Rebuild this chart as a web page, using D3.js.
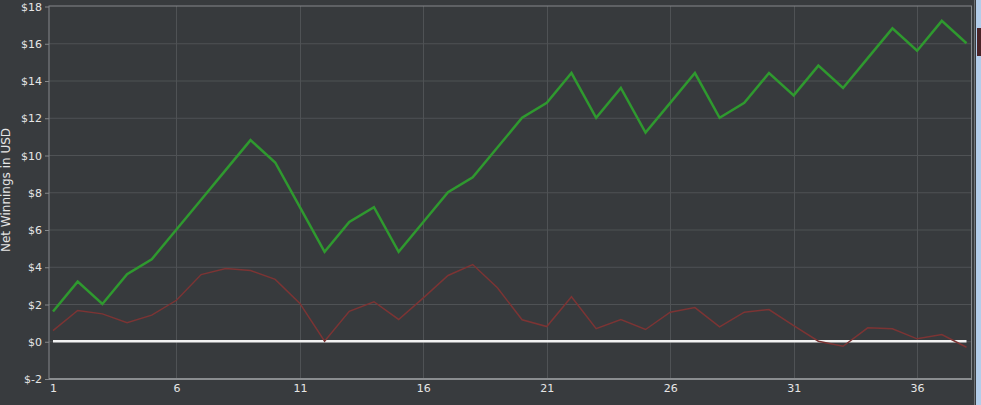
<!DOCTYPE html>
<html><head><meta charset="utf-8">
<script src="https://cdn.jsdelivr.net/npm/d3@7"></script>
<style>
html,body{margin:0;padding:0;background:#383b3e;overflow:hidden}
svg{display:block}
text{font-family:"DejaVu Sans",Verdana,sans-serif}
</style></head><body>
<svg id="c" width="981" height="405"></svg>
<script>
const games = d3.range(1, 39);
const netWinnings = [1.6,3.2,2.0,3.6,4.4,6.0,7.6,9.2,10.8,9.6,7.2,4.8,6.4,7.2,4.8,6.4,8.0,8.8,10.4,12.0,12.8,14.4,12.0,13.6,11.2,12.8,14.4,12.0,12.8,14.4,13.2,14.8,13.6,15.2,16.8,15.6,17.2,16.0];
const otherSeries = [0.57,1.65,1.47,1.0,1.4,2.2,3.58,3.9,3.8,3.32,2.03,0.0,1.61,2.12,1.17,2.33,3.53,4.12,2.87,1.15,0.79,2.39,0.68,1.17,0.63,1.56,1.81,0.77,1.56,1.7,0.84,0.0,-0.27,0.72,0.67,0.13,0.36,-0.32];
const yTicks = [-2,0,2,4,6,8,10,12,14,16,18];
const xTicks = [1,6,11,16,21,26,31,36];
const yLabel = "Net Winnings in USD";

const svg = d3.select("#c");
const L = 49, R = 971.5, T = 6, B = 378.5;
const x = d3.scaleLinear().domain([1, 38]).range([53, 966.5]);
const y = d3.scaleLinear().domain([-2, 18]).range([B, T]);

// right-edge window artifacts
svg.append("rect").attr("x",974).attr("y",0).attr("width",1).attr("height",405).attr("fill","#6e7276");
svg.append("rect").attr("x",976).attr("y",0).attr("width",5).attr("height",405).attr("fill","#b3cdea");
svg.append("rect").attr("x",977).attr("y",28).attr("width",4).attr("height",28).attr("fill","#4a2428");

svg.append("rect").attr("x",L).attr("y",T).attr("width",R-L).attr("height",B-T).attr("fill","#373a3d");

// grid
svg.append("g").selectAll("line").data(yTicks.filter(d=>d>-2&&d<18)).join("line")
  .attr("x1",L).attr("x2",R).attr("y1",d=>y(d)+0.5).attr("y2",d=>y(d)+0.5)
  .attr("stroke","#4f5255").attr("stroke-width",1);
svg.append("g").selectAll("line").data(xTicks.filter(d=>d>1)).join("line")
  .attr("x1",d=>Math.round(x(d))+0.5).attr("x2",d=>Math.round(x(d))+0.5).attr("y1",T).attr("y2",B)
  .attr("stroke","#4f5255").attr("stroke-width",1);

// frame
svg.append("rect").attr("x",L).attr("y",T).attr("width",R-L).attr("height",B-T)
  .attr("fill","none").attr("stroke","#85888b").attr("stroke-width",1);
svg.append("line").attr("x1",L).attr("x2",R+0.5).attr("y1",B+0.5).attr("y2",B+0.5)
  .attr("stroke","#8a8d90").attr("stroke-width",2);

// axes
const yAxis = d3.axisLeft(y).tickValues(yTicks).tickFormat(d=>"$"+d).tickSize(4).tickPadding(3);
const gy = svg.append("g").attr("transform",`translate(${L},0.5)`).call(yAxis);
const xAxis = d3.axisBottom(x).tickValues(xTicks).tickFormat(d3.format("d")).tickSize(0).tickPadding(5);
const gx = svg.append("g").attr("transform",`translate(0,${B+1})`).call(xAxis);
[gy,gx].forEach(g=>{
  g.select(".domain").remove();
  g.selectAll(".tick line").attr("stroke","#85888b");
  g.selectAll("text").attr("fill","#e6e6e6").style("font-size","11px").style("font-family","'DejaVu Sans',sans-serif");
});

svg.append("text").attr("transform","translate(10,190) rotate(-90)")
  .attr("text-anchor","middle").attr("fill","#e6e6e6").style("font-size","12px").text(yLabel);

// zero line
svg.append("line").attr("x1",x(1)).attr("x2",x(38)).attr("y1",y(0)).attr("y2",y(0))
  .attr("stroke","#f2f2f2").attr("stroke-width",2.5);

const line = d3.line().x((d,i)=>x(games[i])).y(d=>y(d));
svg.append("path").datum(otherSeries).attr("d",line).attr("fill","none")
  .attr("stroke","#7c3434").attr("stroke-width",1.5);
svg.append("path").datum(netWinnings).attr("d",line).attr("fill","none")
  .attr("stroke","#2f992f").attr("stroke-width",2.5).attr("stroke-linejoin","miter");
</script></body></html>
